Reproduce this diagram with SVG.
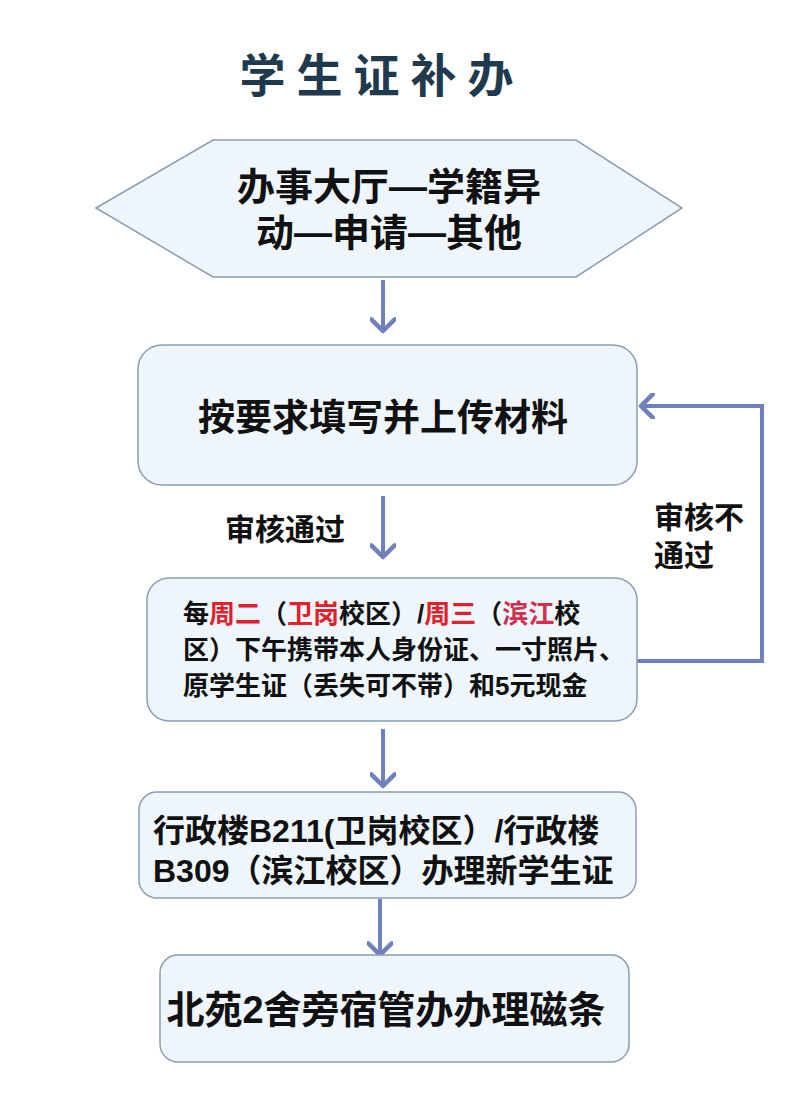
<svg xmlns="http://www.w3.org/2000/svg" width="793" height="1096" viewBox="0 0 793 1096">
<style>
.cn{font-family:"Liberation Sans","Noto Sans CJK SC",sans-serif;font-weight:bold;fill:#111}
.box{fill:#eef6fb;stroke:#8c9db2;stroke-width:1.5}
.conn{fill:none;stroke:#6f80bd;stroke-width:4}
.red{fill:#e0202a}
</style>
<defs>
<marker id="chevL" viewBox="0 0 20 20" refX="18" refY="10" markerWidth="26" markerHeight="26" markerUnits="userSpaceOnUse" orient="auto">
<polyline points="9,1 18,10 9,19" fill="none" stroke="#6f80bd" stroke-width="3.5" stroke-linejoin="round" stroke-linecap="round"/>
</marker>
</defs>
<rect width="793" height="1096" fill="#ffffff"/>
<text x="382" y="92" text-anchor="middle" class="cn" style="font-size:46px;fill:#1e3a4c;letter-spacing:11px">学生证补办</text>

<g id="connectors">
<line class="conn" x1="383" y1="280" x2="383" y2="331" marker-end="url(#chevL)"/>
<line class="conn" x1="383" y1="496" x2="383" y2="557" marker-end="url(#chevL)"/>
<line class="conn" x1="383" y1="729" x2="383" y2="786" marker-end="url(#chevL)"/>
<line class="conn" x1="380" y1="899" x2="380" y2="955" marker-end="url(#chevL)"/>
<polyline class="conn" points="637,661 762,661 762,406 641,406" marker-end="url(#chevL)"/>
<text x="225" y="540" class="cn" style="font-size:30px">审核通过</text>
<text x="654" y="528" class="cn" style="font-size:30px">审核不</text>
<text x="654" y="566" class="cn" style="font-size:30px">通过</text>
</g>

<g id="node1">
<polygon class="box" points="96,208 213,140 576,140 682,208 576,277 213,277"/>
<text x="389" y="200" text-anchor="middle" class="cn" style="font-size:38px">办事大厅—学籍异</text>
<text x="389" y="246" text-anchor="middle" class="cn" style="font-size:38px">动—申请—其他</text>
</g>

<g id="node2">
<rect class="box" x="138" y="345" width="499" height="140" rx="24"/>
<text x="383" y="431" text-anchor="middle" class="cn" style="font-size:37px">按要求填写并上传材料</text>
</g>

<g id="node3">
<rect class="box" x="147" y="578" width="490" height="143" rx="22"/>
<text x="183" y="623" class="cn" style="font-size:26px">每<tspan class="red">周二</tspan>（<tspan class="red">卫岗</tspan>校区）/<tspan class="red">周三</tspan>（<tspan style="fill:#d0304e">滨江</tspan>校</text>
<text x="183" y="659" class="cn" style="font-size:26px">区）下午携带本人身份证、一寸照片、</text>
<text x="183" y="695" class="cn" style="font-size:26px">原学生证（丢失可不带）和5元现金</text>
</g>

<g id="node4">
<rect class="box" x="139" y="792" width="497" height="106" rx="18"/>
<text x="153" y="842" class="cn" style="font-size:32px">行政楼B211(卫岗校区）/行政楼</text>
<text x="153" y="882" class="cn" style="font-size:32px">B309（滨江校区）办理新学生证</text>
</g>

<g id="node5">
<rect class="box" x="160" y="955" width="469" height="107" rx="18"/>
<text x="386" y="1023" text-anchor="middle" class="cn" style="font-size:38px">北苑2舍旁宿管办办理磁条</text>
</g>
</svg>
